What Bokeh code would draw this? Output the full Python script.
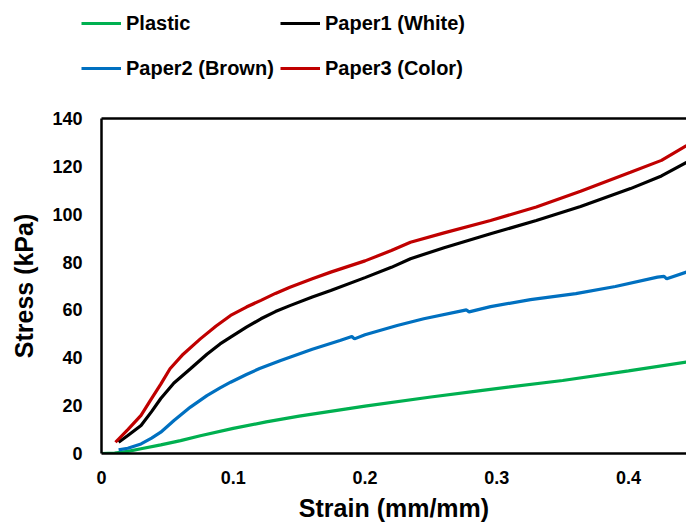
from bokeh.plotting import figure
from bokeh.models import Range1d, Legend, LegendItem, LinearAxis, FixedTicker, Plot
from bokeh.layouts import column
from bokeh.embed import file_html
from bokeh.resources import INLINE

# ---- data ----
plastic_x = [0, 0.01, 0.02, 0.03, 0.045, 0.06, 0.075, 0.1, 0.125, 0.15, 0.2, 0.25, 0.2877, 0.35, 0.4, 0.444]
plastic_y = [0, 0.2, 0.9, 2.0, 3.6, 5.4, 7.4, 10.5, 13.2, 15.6, 19.8, 23.6, 26.3, 30.5, 34.5, 38.2]

paper1_x = [0.013, 0.02, 0.03, 0.038, 0.045, 0.055, 0.0675, 0.08, 0.09, 0.098, 0.11, 0.121, 0.132, 0.143, 0.16, 0.174, 0.2, 0.22, 0.2345, 0.26, 0.2953, 0.33, 0.3636, 0.4015, 0.425, 0.444]
paper1_y = [4.7, 7.5, 11.7, 17.5, 23.0, 29.5, 35.4, 41.5, 45.8, 48.6, 52.8, 56.3, 59.3, 61.8, 65.4, 68.1, 73.5, 77.8, 81.4, 86.0, 91.8, 97.4, 103.2, 110.7, 116.0, 121.7]

paper2_x = [0.013, 0.02, 0.03, 0.038, 0.045, 0.055, 0.0675, 0.08, 0.09, 0.098, 0.11, 0.12, 0.136, 0.16, 0.181, 0.19, 0.192, 0.2, 0.2244, 0.2446, 0.277, 0.279, 0.2953, 0.3256, 0.36, 0.39, 0.422, 0.427, 0.429, 0.444]
paper2_y = [1.5, 2.2, 4.0, 6.4, 8.9, 13.8, 19.4, 24.2, 27.4, 29.8, 33.0, 35.5, 38.9, 43.6, 47.2, 48.9, 47.9, 49.6, 53.5, 56.3, 60.0, 59.2, 61.4, 64.3, 66.8, 69.8, 73.7, 74.0, 73.0, 75.8]

paper3_x = [0.0106, 0.02, 0.03, 0.037, 0.045, 0.052, 0.062, 0.075, 0.087, 0.098, 0.11, 0.121, 0.132, 0.143, 0.16, 0.174, 0.2, 0.22, 0.2345, 0.26, 0.2953, 0.33, 0.3636, 0.4015, 0.425, 0.444]
paper3_y = [4.7, 10.0, 15.9, 22.1, 29.0, 35.4, 41.5, 47.9, 53.3, 57.7, 61.2, 64.0, 66.9, 69.5, 73.0, 75.8, 80.5, 84.8, 88.3, 92.2, 97.4, 103.0, 109.6, 117.5, 122.5, 128.7]

series_names = ["Plastic", "Paper1 (White)", "Paper2 (Brown)", "Paper3 (Color)"]
series_colors = ["#00B050", "#000000", "#0070C0", "#C00000"]

x_ticks = [0, 0.1, 0.2, 0.3, 0.4]
x_tick_labels = ["0", "0.1", "0.2", "0.3", "0.4"]
y_ticks = [0, 20, 40, 60, 80, 100, 120, 140]
y_tick_labels = ["0", "20", "40", "60", "80", "100", "120", "140"]

FONT = "Liberation Sans"
HAS_FRAME_ALIGN = "frame_align" in Plot.properties()

# ---------------- main chart ----------------
p = figure(width=686, height=425, output_backend="svg", toolbar_location=None,
           x_range=Range1d(0, 0.444), y_range=Range1d(0, 140),
           min_border_left=101, min_border_right=0, min_border_top=18, min_border_bottom=72)
p.xgrid.visible = False
p.ygrid.visible = False
p.outline_line_color = None
p.background_fill_color = "white"
p.border_fill_color = "white"

for xs, ys, c in zip([plastic_x, paper1_x, paper2_x, paper3_x],
                     [plastic_y, paper1_y, paper2_y, paper3_y], series_colors):
    p.line(xs, ys, line_color=c, line_width=3.2)

for ax in (p.xaxis[0], p.yaxis[0]):
    ax.axis_line_width = 2.5
    ax.axis_line_color = "black"
    ax.major_tick_line_color = None
    ax.minor_tick_line_color = None
    ax.major_tick_out = 0
    ax.major_tick_in = 0
    ax.major_label_text_font = FONT
    ax.major_label_text_font_style = "bold"
    ax.major_label_text_font_size = "18px"
    ax.major_label_text_color = "black"
    ax.axis_label_text_font = FONT
    ax.axis_label_text_font_style = "bold"
    ax.axis_label_text_font_size = "25px"
    ax.axis_label_text_color = "black"

p.xaxis[0].ticker = FixedTicker(ticks=x_ticks)
p.xaxis[0].major_label_overrides = dict(zip(x_ticks, x_tick_labels))
p.xaxis[0].major_label_standoff = 17
p.xaxis[0].axis_label = "Strain (mm/mm)"
p.xaxis[0].axis_label_standoff = 7

p.yaxis[0].ticker = FixedTicker(ticks=y_ticks)
p.yaxis[0].major_label_overrides = dict(zip(y_ticks, y_tick_labels))
p.yaxis[0].major_label_standoff = 19
p.yaxis[0].axis_label = "Stress (kPa)"
p.yaxis[0].axis_label_standoff = 11

top = LinearAxis(ticker=FixedTicker(ticks=[]), axis_line_width=2.5, axis_line_color="black",
                 major_tick_line_color=None, minor_tick_line_color=None,
                 major_label_text_font_size="0px")
p.add_layout(top, "above")

# ---------------- legend strip ----------------
lg = figure(width=686, height=100, output_backend="svg", toolbar_location=None,
            x_range=Range1d(0, 1), y_range=Range1d(0, 1),
            x_axis_location=None, y_axis_location=None,
            min_border_left=0, min_border_right=0, min_border_top=0, min_border_bottom=0)
lg.xgrid.visible = False
lg.ygrid.visible = False
lg.outline_line_color = None
lg.background_fill_color = "white"
lg.border_fill_color = "white"

if HAS_FRAME_ALIGN:
    p.frame_align = False
    lg.frame_align = False

# legend keys (sample strokes only; kept outside the visible range of the strip)
keys = [lg.line(x=[-2, -1], y=[-2, -1], line_color=c, line_width=3.2) for c in series_colors]

def make_legend(idx, loc):
    leg = Legend(items=[LegendItem(label=series_names[i], renderers=[keys[i]]) for i in idx],
                 location=loc, orientation="horizontal")
    leg.label_text_font = FONT
    leg.label_text_font_style = "bold"
    leg.label_text_font_size = "20px"
    leg.label_text_color = "black"
    leg.glyph_width = 40
    leg.glyph_height = 30
    leg.label_height = 30
    leg.label_width = 150
    leg.label_standoff = 5
    leg.spacing = 4
    leg.padding = 0
    leg.margin = 0
    leg.border_line_color = None
    leg.background_fill_alpha = 0
    return leg

lg.add_layout(make_legend([0, 1], (81, 62)))
lg.add_layout(make_legend([2, 3], (81, 17)))

open("out.html", "w").write(file_html(column(lg, p, spacing=0), INLINE))
